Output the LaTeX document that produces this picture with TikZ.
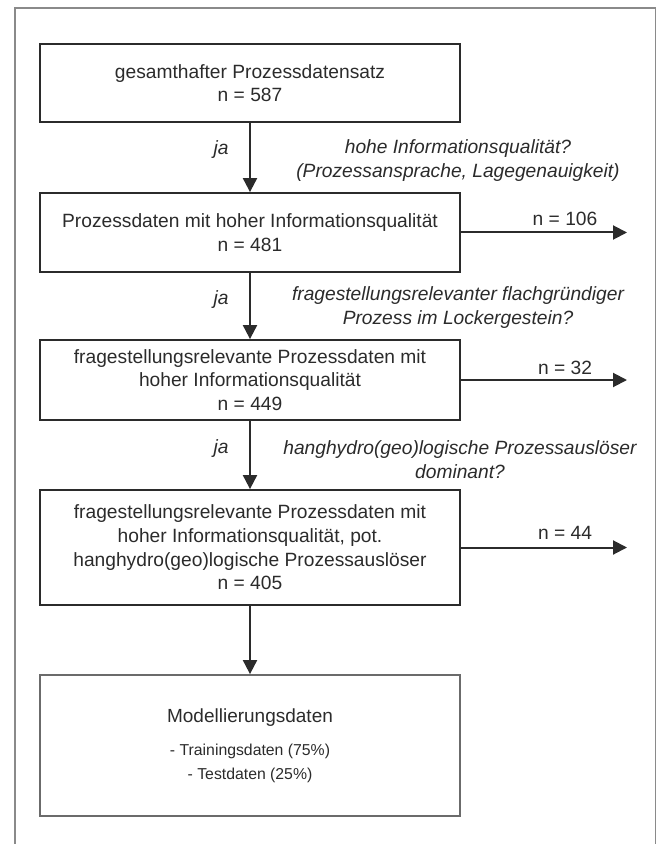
\documentclass[tikz,border=0pt]{standalone}
\usepackage{fontspec}
\setmainfont{Liberation Sans}
\usetikzlibrary{arrows.meta,positioning}
\definecolor{ink}{HTML}{2B2B2B}
\definecolor{rahmen}{HTML}{8A8A8A}
\tikzstyle{box} = [rectangle, draw=ink, line width=0.9pt, minimum width=210pt, align=center, text=ink, font=\fontsize{9.6}{11.8}\selectfont]
\tikzstyle{arrow} = [line width=1pt, draw=ink, -{Triangle[length=7pt,width=7pt]}]
\tikzstyle{frage} = [align=center, text=ink, font=\fontsize{9.6}{12}\selectfont\itshape]
\tikzstyle{zahl} = [text=ink, font=\fontsize{9.6}{11}\selectfont]

\begin{document}
\begin{tikzpicture}[x=0.5pt,y=-0.5pt]
\useasboundingbox (0,0) rectangle (657,844);
\draw [rahmen, line width=0.8pt] (15,850) -- (15,8) -- (655.5,8) -- (655.5,850);

\node [box, minimum height=39pt] (b1) at (250,83) {gesamthafter Prozessdatensatz\\n = 587};
\node [box, minimum height=39.5pt] (b2) at (250,232.5) {Prozessdaten mit hoher Informationsqualität\\n = 481};
\node [box, minimum height=40pt] (b3) at (250,380) {fragestellungsrelevante Prozessdaten mit\\hoher Informationsqualität\\n = 449};
\node [box, minimum height=57.5pt] (b4) at (250,547.5) {fragestellungsrelevante Prozessdaten mit\\hoher Informationsqualität, pot.\\hanghydro(geo)logische Prozessauslöser\\n = 405};
\node [box, draw=ink!70, minimum height=70.5pt] (b5) at (250,745.5) {{\fontsize{9.5}{11}\selectfont Modellierungsdaten}\\[5pt]{\fontsize{7.9}{10.5}\selectfont - Trainingsdaten (75\%)}\\{\fontsize{7.9}{10.5}\selectfont - Testdaten (25\%)}};

\node [frage] (j1) at (221,150) {ja};
\node [frage] (j2) at (221,300) {ja};
\node [frage] (j3) at (221,449) {ja};

\node [frage] (q1) at (458,161) {hohe Informationsqualität?\\(Prozessansprache, Lagegenauigkeit)};
\node [frage] (q2) at (458,308) {fragestellungsrelevanter flachgründiger\\Prozess im Lockergestein?};
\node [frage] (q3) at (460,459.5) {hanghydro(geo)logische Prozessauslöser\\dominant?};

\coordinate (e) at (627,0);
\node [zahl] (n1) at (565,219) {n = 106};
\node [zahl] (n2) at (565,368) {n = 32};
\node [zahl] (n3) at (565,533) {n = 44};

\draw [arrow] (b1) -- (b2);
\draw [arrow] (b2) -- (b3);
\draw [arrow] (b3) -- (b4);
\draw [arrow] (b4) -- (b5);

\draw [arrow] (b2.east) -- (b2.east -| e);
\draw [arrow] (b3.east) -- (b3.east -| e);
\draw [arrow] (b4.east) -- (b4.east -| e);
\end{tikzpicture}
\end{document}
